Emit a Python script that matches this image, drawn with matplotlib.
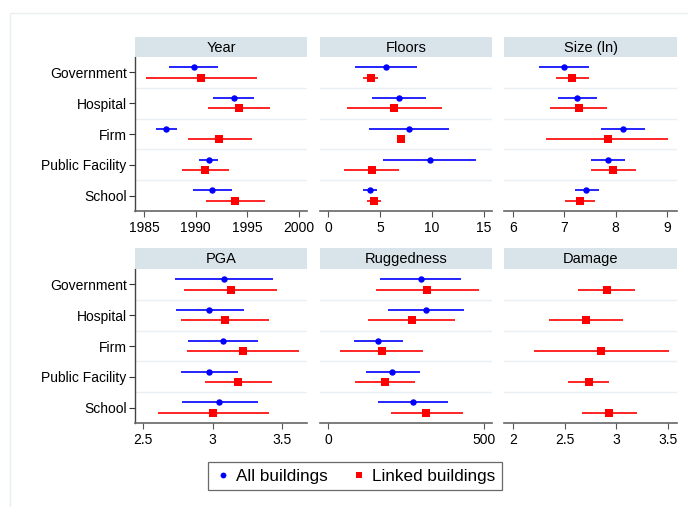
import numpy as np
import matplotlib.pyplot as plt
from matplotlib.lines import Line2D
from matplotlib.patches import Rectangle

plt.rcParams['font.family'] = ['Liberation Sans', 'DejaVu Sans']

categories = ['Government', 'Hospital', 'Firm', 'Public Facility', 'School']

# (estimate, lower, upper) per category
year_all = [(1989.8, 1987.4, 1992.2), (1993.7, 1991.7, 1995.7), (1987.1, 1986.1, 1988.2),
            (1991.25, 1990.3, 1992.2), (1991.6, 1989.7, 1993.5)]
year_linked = [(1990.5, 1985.2, 1995.9), (1994.2, 1991.2, 1997.2), (1992.3, 1989.2, 1995.5),
               (1990.9, 1988.7, 1993.2), (1993.8, 1991.0, 1996.7)]

floors_all = [(5.58, 2.58, 8.55), (6.8, 4.19, 9.42), (7.8, 3.97, 11.65),
              (9.77, 5.32, 14.26), (4.0, 3.32, 4.71)]
floors_linked = [(4.13, 3.39, 4.77), (6.35, 1.77, 10.94), (7.03, 6.95, 7.1),
                 (4.23, 1.55, 6.84), (4.39, 3.74, 5.06)]

size_all = [(6.99, 6.50, 7.49), (7.25, 6.87, 7.63), (8.14, 7.72, 8.57),
            (7.86, 7.52, 8.19), (7.43, 7.21, 7.67)]
size_linked = [(7.14, 6.83, 7.48), (7.29, 6.72, 7.84), (7.85, 6.65, 9.03),
               (7.95, 7.52, 8.39), (7.30, 7.02, 7.59)]

pga_all = [(3.079, 2.728, 3.433), (2.976, 2.733, 3.224), (3.075, 2.825, 3.325),
           (2.976, 2.772, 3.185), (3.048, 2.779, 3.325)]
pga_linked = [(3.13, 2.793, 3.466), (3.087, 2.774, 3.404), (3.219, 2.815, 3.623),
              (3.183, 2.945, 3.425), (3.002, 2.603, 3.404)]

rugged_all = [(297, 167, 427), (314, 193, 437), (159, 81, 240),
              (206, 120, 295), (273, 161, 385)]
rugged_linked = [(318, 152, 486), (269, 129, 407), (172, 38, 306),
                 (182, 86, 280), (315, 201, 432)]

damage_linked = [(2.909, 2.63, 3.18), (2.708, 2.35, 3.065), (2.854, 2.2, 3.51),
                 (2.737, 2.535, 2.932), (2.928, 2.666, 3.2)]

panels = [
    ('Year', year_all, year_linked, (1984.1, 2000.8), [1985, 1990, 1995, 2000], ['1985', '1990', '1995', '2000']),
    ('Floors', floors_all, floors_linked, (-0.8, 15.8), [0, 5, 10, 15], ['0', '5', '10', '15']),
    ('Size (ln)', size_all, size_linked, (5.82, 9.2), [6, 7, 8, 9], ['6', '7', '8', '9']),
    ('PGA', pga_all, pga_linked, (2.44, 3.68), [2.5, 3, 3.5], ['2.5', '3', '3.5']),
    ('Ruggedness', rugged_all, rugged_linked, (-27, 527), [0, 500], ['0', '500']),
    ('Damage', None, damage_linked, (1.91, 3.59), [2, 2.5, 3, 3.5], ['2', '2.5', '3', '3.5']),
]

W, H = 688, 507
fig = plt.figure(figsize=(W / 100, H / 100), dpi=100)

# faint outer frame of the graph region
fig.patches.append(Rectangle((10 / W, -0.1), 1.2, 1 - 13 / H + 0.1, transform=fig.transFigure,
                             fill=False, edgecolor='#eaf0f2', lw=1.0))

col_x = [(135, 307), (320, 492), (504, 677)]
row_y = [(37, 57, 211), (248, 269, 423)]  # strip top, plot top, plot bottom

BLUE = '#0000ff'
RED = '#ff0000'
STRIP = '#d9e4ea'
GRID = '#e9eff2'
off = 0.17
ypos = np.arange(len(categories))

for i, (title, s_all, s_linked, xlim, ticks, ticklabels) in enumerate(panels):
    r, c = divmod(i, 3)
    x0, x1 = col_x[c]
    st, pt, pb = row_y[r]
    ax = fig.add_axes([x0 / W, 1 - pb / H, (x1 - x0) / W, (pb - pt) / H])
    sax = fig.add_axes([x0 / W, 1 - pt / H, (x1 - x0) / W, (pt - st) / H])
    sax.set_facecolor(STRIP)
    sax.set_xticks([])
    sax.set_yticks([])
    for sp in sax.spines.values():
        sp.set_visible(False)
    sax.text(0.5, 0.47, title, ha='center', va='center', fontsize=10.5, transform=sax.transAxes)

    for b in [0.5, 1.5, 2.5, 3.5]:
        ax.axhline(b, color=GRID, lw=1.0, zorder=0)

    if s_all is not None:
        est = [v[0] for v in s_all]
        lo = [v[1] for v in s_all]
        hi = [v[2] for v in s_all]
        ax.hlines(ypos - off, lo, hi, color=BLUE, lw=1.2, zorder=2)
        ax.plot(est, ypos - off, 'o', color=BLUE, ms=4.6, mew=0, zorder=3)
    est = [v[0] for v in s_linked]
    lo = [v[1] for v in s_linked]
    hi = [v[2] for v in s_linked]
    ax.hlines(ypos + off, lo, hi, color=RED, lw=1.2, zorder=2)
    ax.plot(est, ypos + off, 's', color=RED, ms=5.2, mew=0, zorder=3)

    ax.set_xlim(*xlim)
    ax.set_ylim(4.5, -0.5)
    ax.set_xticks(ticks)
    ax.set_xticklabels(ticklabels, fontsize=10)
    ax.tick_params(axis='x', length=4, width=0.8, color='#555555', pad=3)
    for side in ['top', 'right']:
        ax.spines[side].set_visible(False)
    ax.spines['bottom'].set_color('#666666')
    ax.spines['bottom'].set_linewidth(1.2)
    if c == 0:
        ax.set_yticks(ypos)
        ax.set_yticklabels(categories, fontsize=10)
        ax.tick_params(axis='y', length=4, width=0.8, color='#333333', pad=2)
        ax.spines['left'].set_color('#444444')
        ax.spines['left'].set_linewidth(1.0)
    else:
        ax.set_yticks([])
        ax.spines['left'].set_visible(False)

handles = [
    Line2D([], [], marker='o', color=BLUE, linestyle='none', ms=4.2, mew=0, label='All buildings'),
    Line2D([], [], marker='s', color=RED, linestyle='none', ms=4.6, mew=0, label='Linked buildings'),
]
leg = fig.legend(handles=handles, loc='center', bbox_to_anchor=(355 / W, 1 - 476 / H), ncol=2,
                 fontsize=12.3, frameon=True, fancybox=False, edgecolor='#444444',
                 handletextpad=0.3, columnspacing=1.4, handlelength=0.9, borderpad=0.4)
leg.get_frame().set_linewidth(0.9)

fig.savefig('out.png', dpi=100)
